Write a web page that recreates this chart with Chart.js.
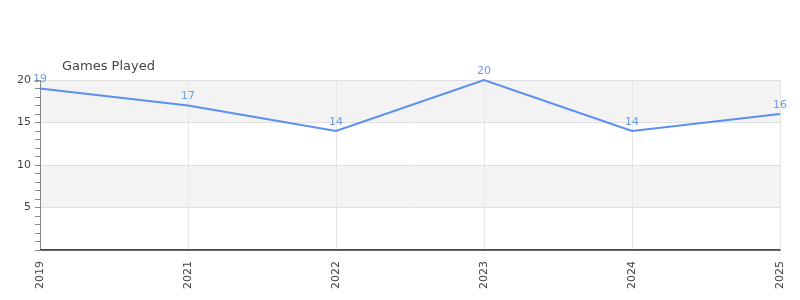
<!DOCTYPE html>
<html>
<head>
<meta charset="utf-8">
<script src="https://cdn.jsdelivr.net/npm/chart.js@4/dist/chart.umd.min.js"></script>
<style>
  html, body { margin: 0; padding: 0; background: #fff; }
  #wrap { width: 800px; height: 300px; }
</style>
</head>
<body>
<div id="wrap"><canvas id="myChart" width="800" height="300"></canvas></div>
<script>
const years = ['2019', '2021', '2022', '2023', '2024', '2025'];
const gamesPlayed = [19, 17, 14, 20, 14, 16];
const yTicks = [5, 10, 15, 20];
const bands = [[15, 20], [5, 10]];

const FONT = '"DejaVu Sans", sans-serif';

// gray bands, title, point labels and the red zero line
const extras = {
    id: 'extras',
    beforeDraw(chart) {
        const ctx = chart.ctx;
        const area = chart.chartArea;
        const y = chart.scales.y;
        ctx.save();
        ctx.fillStyle = '#f3f3f3';
        bands.forEach(b => {
            const top = y.getPixelForValue(b[1]);
            const bot = y.getPixelForValue(b[0]);
            ctx.fillRect(area.left, top, area.right - area.left, bot - top);
        });
        ctx.restore();
    },
    afterDraw(chart) {
        const ctx = chart.ctx;
        const area = chart.chartArea;
        const y = chart.scales.y;
        ctx.save();
        ctx.fillStyle = '#444';
        ctx.font = '13px ' + FONT;
        ctx.textAlign = 'left';
        ctx.textBaseline = 'middle';
        ctx.fillText('Games Played', area.left + 22, 67);

        const meta = chart.getDatasetMeta(0);
        ctx.fillStyle = '#6e9be6';
        ctx.font = '11px ' + FONT;
        ctx.textAlign = 'center';
        meta.data.forEach((pt, i) => {
            ctx.fillText(String(gamesPlayed[i]), pt.x, pt.y - 9);
        });

        const y0 = Math.round(y.getPixelForValue(0)) - 0.5;
        ctx.strokeStyle = '#d01010';
        ctx.lineWidth = 1;
        ctx.beginPath();
        ctx.moveTo(area.left, y0);
        ctx.lineTo(area.right, y0);
        ctx.stroke();
        ctx.restore();
    }
};

new Chart(document.getElementById('myChart'), {
    type: 'line',
    data: {
        labels: years,
        datasets: [{
            label: 'Games Played',
            data: gamesPlayed,
            borderColor: '#5b8ff0',
            borderWidth: 2,
            pointRadius: 0,
            tension: 0,
            fill: false,
            clip: false
        }]
    },
    options: {
        responsive: false,
        animation: false,
        layout: { padding: { top: 80, right: 20, left: 0, bottom: 0 } },
        plugins: {
            legend: { display: false },
            title: { display: false },
            tooltip: { enabled: false }
        },
        scales: {
            x: {
                offset: false,
                afterFit: s => { s.height = 50; s.paddingLeft = 0; s.paddingRight = 0; },
                grid: { color: '#e6e6e6', drawTicks: false },
                border: { color: '#666', width: 1 },
                ticks: {
                    minRotation: 90, maxRotation: 90, padding: 11,
                    color: '#444', font: { family: FONT, size: 11 }
                }
            },
            y: {
                min: 0, max: 20,
                afterFit: s => { s.width = 40; s.paddingTop = 0; s.paddingBottom = 0; },
                grid: {
                    color: c => (c.tick && yTicks.includes(c.tick.value)) ? '#e0e0e0' : 'rgba(0,0,0,0)',
                    tickColor: '#888',
                    tickLength: 5
                },
                border: { color: '#888', width: 1 },
                ticks: {
                    stepSize: 1,
                    autoSkip: false,
                    padding: 4,
                    color: '#444',
                    font: { family: FONT, size: 11 },
                    callback: v => yTicks.includes(v) ? String(v) : ''
                }
            }
        }
    },
    plugins: [extras]
});
</script>
</body>
</html>
